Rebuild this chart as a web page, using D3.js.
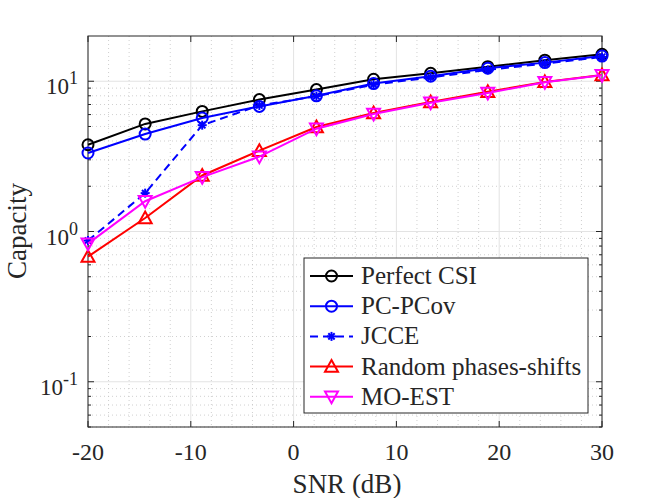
<!DOCTYPE html>
<html>
<head>
<meta charset="utf-8">
<script src="https://cdn.jsdelivr.net/npm/d3@7.9.0/dist/d3.min.js"></script>
<style>
  body { margin: 0; background: #fff; }
  text { font-family: "Liberation Serif", "Times New Roman", serif; fill: #262626; }
</style>
</head>
<body>
<svg id="chart" width="664" height="498"></svg>
<script>
// SNR points (dB)
const snr = [-20, -14.44, -8.89, -3.33, 2.22, 7.78, 13.33, 18.89, 24.44, 30];

const perfectCsi = [3.78, 5.2, 6.3, 7.55, 8.8, 10.3, 11.3, 12.5, 13.8, 15.1];
const pcPcov = [3.33, 4.45, 5.7, 6.8, 8.0, 9.65, 10.8, 12.2, 13.3, 14.7];
const jcce = [0.87, 1.8, 5.1, 6.9, 7.95, 9.5, 10.6, 11.9, 13.1, 14.5];
const randomPhases = [0.68, 1.23, 2.36, 3.45, 4.96, 6.15, 7.28, 8.5, 9.9, 11.0];
const moEst = [0.83, 1.59, 2.3, 3.15, 4.83, 6.05, 7.2, 8.35, 9.85, 10.95];

const legendLabels = ['Perfect CSI', 'PC-PCov', 'JCCE', 'Random phases-shifts', 'MO-EST'];
const xTicks = [-20, -10, 0, 10, 20, 30];
const yTicks = [0.1, 1, 10];

const series = [
  { name: legendLabels[0], values: perfectCsi, color: '#000000', marker: 'circle', dash: null },
  { name: legendLabels[1], values: pcPcov, color: '#0000ff', marker: 'circle', dash: null },
  { name: legendLabels[2], values: jcce, color: '#0000ff', marker: 'star', dash: '8,5' },
  { name: legendLabels[3], values: randomPhases, color: '#ff0000', marker: 'up', dash: null },
  { name: legendLabels[4], values: moEst, color: '#ff00ff', marker: 'down', dash: null },
];

const svg = d3.select('#chart');
const pLeft = 88, pRight = 602, pTop = 36, pBottom = 427;

const x = d3.scaleLinear().domain([-20, 30]).range([pLeft, pRight]);
const y = d3.scaleLog().domain([0.05, 20]).range([pBottom, pTop]);

// minor grid
const minorX = d3.range(-20, 31, 2).filter(v => v % 10 !== 0);
const minorY = [0.05, 0.06, 0.07, 0.08, 0.09];
[0.1, 1].forEach(dec => d3.range(2, 10).forEach(k => minorY.push(dec * k)));

const grid = svg.append('g');
grid.selectAll('.mx').data(minorX).join('line')
  .attr('x1', d => x(d)).attr('x2', d => x(d)).attr('y1', pTop).attr('y2', pBottom)
  .attr('stroke', '#c4c4c4').attr('stroke-width', 0.8).attr('stroke-dasharray', '1,3');
grid.selectAll('.my').data(minorY).join('line')
  .attr('x1', pLeft).attr('x2', pRight).attr('y1', d => y(d)).attr('y2', d => y(d))
  .attr('stroke', '#c4c4c4').attr('stroke-width', 0.8).attr('stroke-dasharray', '1,3');
grid.selectAll('.Mx').data(xTicks).join('line')
  .attr('x1', d => x(d)).attr('x2', d => x(d)).attr('y1', pTop).attr('y2', pBottom)
  .attr('stroke', '#e3e3e3').attr('stroke-width', 1);
grid.selectAll('.My').data(yTicks).join('line')
  .attr('x1', pLeft).attr('x2', pRight).attr('y1', d => y(d)).attr('y2', d => y(d))
  .attr('stroke', '#e3e3e3').attr('stroke-width', 1);

// box and ticks
const axisG = svg.append('g').attr('stroke', '#262626').attr('stroke-width', 1);
axisG.append('rect').attr('x', pLeft).attr('y', pTop).attr('width', pRight - pLeft).attr('height', pBottom - pTop)
  .attr('fill', 'none');
xTicks.forEach(t => {
  axisG.append('line').attr('x1', x(t)).attr('x2', x(t)).attr('y1', pBottom).attr('y2', pBottom - 6);
  axisG.append('line').attr('x1', x(t)).attr('x2', x(t)).attr('y1', pTop).attr('y2', pTop + 6);
});
yTicks.forEach(t => {
  axisG.append('line').attr('x1', pLeft).attr('x2', pLeft + 6).attr('y1', y(t)).attr('y2', y(t));
  axisG.append('line').attr('x1', pRight).attr('x2', pRight - 6).attr('y1', y(t)).attr('y2', y(t));
});
minorY.forEach(t => {
  axisG.append('line').attr('x1', pLeft).attr('x2', pLeft + 3).attr('y1', y(t)).attr('y2', y(t));
  axisG.append('line').attr('x1', pRight).attr('x2', pRight - 3).attr('y1', y(t)).attr('y2', y(t));
});

// tick labels
svg.selectAll('.xl').data(xTicks).join('text')
  .attr('x', d => x(d)).attr('y', 460).attr('text-anchor', 'middle')
  .attr('font-size', 24).text(d => d);
const yl = svg.selectAll('.yl').data(yTicks).join('text')
  .attr('x', 78).attr('y', d => y(d) + 13).attr('text-anchor', 'end').attr('font-size', 23);
yl.append('tspan').text('10');
yl.append('tspan').attr('dy', -10).attr('font-size', 18).text(d => Math.round(Math.log10(d)));

svg.append('text').attr('x', 347).attr('y', 493).attr('text-anchor', 'middle')
  .attr('font-size', 27).text('SNR (dB)');
svg.append('text').attr('transform', 'translate(26,231) rotate(-90)').attr('text-anchor', 'middle')
  .attr('font-size', 27).text('Capacity');

// markers
function drawMarker(g, m, cx, cy, color) {
  if (m === 'circle') {
    g.append('circle').attr('cx', cx).attr('cy', cy).attr('r', 5.5)
      .attr('fill', 'none').attr('stroke', color).attr('stroke-width', 2);
  } else if (m === 'star') {
    const r = 4.5;
    [0, 45, 90, 135].forEach(a => {
      const rad = a * Math.PI / 180;
      g.append('line')
        .attr('x1', cx - r * Math.cos(rad)).attr('y1', cy - r * Math.sin(rad))
        .attr('x2', cx + r * Math.cos(rad)).attr('y2', cy + r * Math.sin(rad))
        .attr('stroke', color).attr('stroke-width', 2);
    });
  } else {
    const s = m === 'up' ? 1 : -1;
    const h = 6.5;
    g.append('path')
      .attr('d', `M${cx},${cy - s * h} L${cx + h},${cy + s * h * 0.8} L${cx - h},${cy + s * h * 0.8} Z`)
      .attr('fill', 'none').attr('stroke', color).attr('stroke-width', 2);
  }
}

const line = d3.line().x(d => x(d[0])).y(d => y(d[1]));
const plot = svg.append('g');
series.forEach(s => {
  const pts = snr.map((v, i) => [v, s.values[i]]);
  plot.append('path').attr('d', line(pts)).attr('fill', 'none')
    .attr('stroke', s.color).attr('stroke-width', 2)
    .attr('stroke-dasharray', s.dash);
  pts.forEach(p => drawMarker(plot, s.marker, x(p[0]), y(p[1]), s.color));
});

// legend
const lg = svg.append('g');
lg.append('rect').attr('x', 304).attr('y', 258).attr('width', 284).attr('height', 155)
  .attr('fill', '#fff').attr('stroke', '#262626').attr('stroke-width', 1);
series.forEach((s, i) => {
  const ly = 276 + i * 30.2;
  lg.append('line').attr('x1', 310).attr('x2', 353).attr('y1', ly).attr('y2', ly)
    .attr('stroke', s.color).attr('stroke-width', 2).attr('stroke-dasharray', s.dash);
  drawMarker(lg, s.marker, 331.5, ly, s.color);
  lg.append('text').attr('x', 361).attr('y', ly + 8).attr('font-size', 25).text(s.name);
});
</script>
</body>
</html>
